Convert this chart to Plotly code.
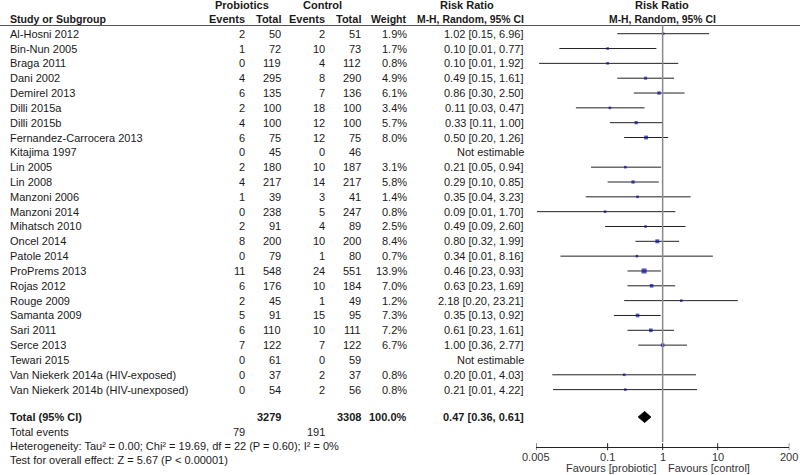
import math
import plotly.graph_objects as go

# ---------------- data ----------------
studies = ["Al-Hosni 2012", "Bin-Nun 2005", "Braga 2011", "Dani 2002", "Demirel 2013",
           "Dilli 2015a", "Dilli 2015b", "Fernandez-Carrocera 2013", "Kitajima 1997",
           "Lin 2005", "Lin 2008", "Manzoni 2006", "Manzoni 2014", "Mihatsch 2010",
           "Oncel 2014", "Patole 2014", "ProPrems 2013", "Rojas 2012", "Rouge 2009",
           "Samanta 2009", "Sari 2011", "Serce 2013", "Tewari 2015",
           "Van Niekerk 2014a (HIV-exposed)", "Van Niekerk 2014b (HIV-unexposed)"]
prob_events = [2, 1, 0, 4, 6, 2, 4, 6, 0, 2, 4, 1, 0, 2, 8, 0, 11, 6, 2, 5, 6, 7, 0, 0, 0]
prob_total = [50, 72, 119, 295, 135, 100, 100, 75, 45, 180, 217, 39, 238, 91, 200, 79,
              548, 176, 45, 91, 110, 122, 61, 37, 54]
ctrl_events = [2, 10, 4, 8, 7, 18, 12, 12, 0, 10, 14, 3, 5, 4, 10, 1, 24, 10, 1, 15,
               10, 7, 0, 2, 2]
ctrl_total = [51, 73, 112, 290, 136, 100, 100, 75, 46, 187, 217, 41, 247, 89, 200, 80,
              551, 184, 49, 95, 111, 122, 59, 37, 56]
weight = [1.9, 1.7, 0.8, 4.9, 6.1, 3.4, 5.7, 8.0, None, 3.1, 5.8, 1.4, 0.8, 2.5, 8.4,
          0.7, 13.9, 7.0, 1.2, 7.3, 7.2, 6.7, None, 0.8, 0.8]
rr = [1.02, 0.10, 0.10, 0.49, 0.86, 0.11, 0.33, 0.50, None, 0.21, 0.29, 0.35, 0.09,
      0.49, 0.80, 0.34, 0.46, 0.63, 2.18, 0.35, 0.61, 1.00, None, 0.20, 0.21]
ci_lo = [0.15, 0.0133, 0.0057, 0.15, 0.30, 0.0265, 0.11, 0.20, None, 0.05, 0.10, 0.04,
         0.0052, 0.09, 0.32, 0.0139, 0.23, 0.23, 0.20, 0.13, 0.23, 0.36, None, 0.0099, 0.0102]
ci_hi = [6.96, 0.77, 1.92, 1.61, 2.50, 0.47, 1.00, 1.26, None, 0.94, 0.85, 3.23, 1.70,
         2.60, 1.99, 8.16, 0.93, 1.69, 23.21, 0.92, 1.61, 2.77, None, 4.03, 4.22]

total_rr, total_lo, total_hi = 0.47, 0.36, 0.61
total_weight = "100.0%"
heterogeneity = "Heterogeneity: Tau² = 0.00; Chi² = 19.69, df = 22 (P = 0.60); I² = 0%"
overall_test = "Test for overall effect: Z = 5.67 (P < 0.00001)"
tick_vals = [0.005, 0.1, 1, 10, 200]
tick_text = ["0.005", "0.1", "1", "10", "200"]

# ---------------- layout helpers ----------------
W, H = 800, 475
FONT = "Liberation Sans, Arial, sans-serif"
TXT = "#1a1a1a"
ROW0, DY = 33.7, 14.83
row_y = [ROW0 + DY * i for i in range(len(studies))]
Y_TOTAL, Y_EVENTS, Y_HET, Y_TEST = 417, 432, 446, 460
Y_H1, Y_H2, Y_LINE = 4.5, 19, 25.5
Y_AXIS = 446.7

COL_NAME = 9
COL_PE, COL_PT, COL_CE, COL_CT, COL_W, COL_RR = 245.5, 282, 326, 362, 407.5, 525

annotations = []


def txt(x, y, s, anchor="right", bold=False, size=11, color=TXT, xref="paper"):
    annotations.append(dict(
        x=(x / W) if xref == "paper" else x, y=y, xref=xref, yref="y",
        text=f"<b>{s}</b>" if bold else s,
        showarrow=False, xanchor=anchor, yanchor="middle",
        font=dict(family=FONT, size=size, color=color), borderpad=0))


# headers
txt(241.5, Y_H1, "Probiotics", "center", True)
txt(322, Y_H1, "Control", "center", True)
txt(467, Y_H1, "Risk Ratio", "center", True)
txt(662, Y_H1, "Risk Ratio", "center", True)
txt(COL_NAME, Y_H2, "Study or Subgroup", "left", True, size=10.6)
txt(COL_PE, Y_H2, "Events", bold=True)
txt(COL_PT, Y_H2, "Total", bold=True)
txt(COL_CE, Y_H2, "Events", bold=True)
txt(COL_CT, Y_H2, "Total", bold=True)
txt(COL_W, Y_H2, "Weight", bold=True, size=10.6)
txt(COL_RR, Y_H2, "M-H, Random, 95% CI", bold=True, size=10.4)
txt(662, Y_H2, "M-H, Random, 95% CI", "center", True, size=10.4)

# rows
for i, y in enumerate(row_y):
    txt(COL_NAME, y, studies[i], "left")
    txt(COL_PE, y, str(prob_events[i]))
    txt(COL_PT, y, str(prob_total[i]))
    txt(COL_CE, y, str(ctrl_events[i]))
    txt(COL_CT, y, str(ctrl_total[i]))
    if weight[i] is None:
        txt(COL_RR, y, "Not estimable")
    else:
        txt(COL_W, y, f"{weight[i]:.1f}%")
        txt(COL_RR, y, f"{rr[i]:.2f} [{ci_lo[i]:.2f}, {ci_hi[i]:.2f}]")

# totals
txt(COL_NAME, Y_TOTAL, "Total (95% CI)", "left", True)
txt(COL_PT, Y_TOTAL, str(sum(prob_total)), bold=True)
txt(COL_CT, Y_TOTAL, str(sum(ctrl_total)), bold=True)
txt(COL_W, Y_TOTAL, total_weight, bold=True)
txt(COL_RR, Y_TOTAL, f"{total_rr:.2f} [{total_lo:.2f}, {total_hi:.2f}]", bold=True)
txt(COL_NAME, Y_EVENTS, "Total events", "left")
txt(COL_PE, Y_EVENTS, str(sum(prob_events)))
txt(COL_CE, Y_EVENTS, str(sum(ctrl_events)))
txt(COL_NAME, Y_HET, heterogeneity, "left")
txt(COL_NAME, Y_TEST, overall_test, "left")

# axis tick labels (annotations on a log axis take log10 positions)
for tv, tt in zip(tick_vals, tick_text):
    txt(math.log10(tv), 456.5, tt, "center", color="#333333", xref="x")

# favours labels
txt(657, 467.5, "Favours [probiotic]", "right", color="#333333")
txt(667, 467.5, "Favours [control]", "left", color="#333333")

fig = go.Figure()

# CI lines
xs, ys = [], []
for i, y in enumerate(row_y):
    if rr[i] is None:
        continue
    xs += [ci_lo[i], ci_hi[i], None]
    ys += [y, y, None]
fig.add_trace(go.Scatter(x=xs, y=ys, mode="lines", line=dict(color="#222222", width=1),
                         hoverinfo="skip", showlegend=False))

# point estimates
px, py, ps = [], [], []
for i, y in enumerate(row_y):
    if rr[i] is None:
        continue
    px.append(rr[i])
    py.append(y)
    ps.append(max(2.6, 1.35 * weight[i] ** 0.5))
fig.add_trace(go.Scatter(x=px, y=py, mode="markers",
                         marker=dict(symbol="square", size=ps, color="#0a0aa0", line=dict(width=0)),
                         showlegend=False))

# diamond
fig.add_trace(go.Scatter(x=[total_lo, total_rr, total_hi, total_rr, total_lo],
                         y=[Y_TOTAL, Y_TOTAL - 5.5, Y_TOTAL, Y_TOTAL + 5.5, Y_TOTAL],
                         mode="lines", fill="toself", fillcolor="black",
                         line=dict(color="black", width=1), showlegend=False))

shapes = [
    dict(type="line", xref="paper", yref="y", x0=0, x1=1, y0=Y_LINE, y1=Y_LINE,
         line=dict(color="#555555", width=1)),
    dict(type="line", xref="x", yref="y", x0=1, x1=1, y0=Y_LINE, y1=442,
         line=dict(color="#8a8a8a", width=1.5)),
]
for tv in tick_vals:
    shapes.append(dict(type="line", xref="x", yref="y", x0=tv, x1=tv,
                       y0=Y_AXIS - 3.5, y1=Y_AXIS + 3.5, line=dict(color="#222222", width=1)))

fig.update_layout(
    width=W, height=H, margin=dict(l=0, r=0, t=0, b=0, pad=0),
    autosize=False,
    paper_bgcolor="white", plot_bgcolor="white",
    xaxis=dict(type="log", domain=[536 / W, 789.3 / W],
               range=[math.log10(0.005), math.log10(200)],
               showticklabels=False, ticks="",
               showline=True, linecolor="#222222", linewidth=1,
               showgrid=False, zeroline=False, anchor="free",
               position=1 - Y_AXIS / H, automargin=False),
    yaxis=dict(range=[H, 0], domain=[0, 1], visible=False, showgrid=False,
               automargin=False),
    annotations=annotations, shapes=shapes, showlegend=False,
)

fig.write_html("out.html", config={"displayModeBar": False},
               post_script="document.body.style.margin='0';document.body.style.overflow='hidden';")
